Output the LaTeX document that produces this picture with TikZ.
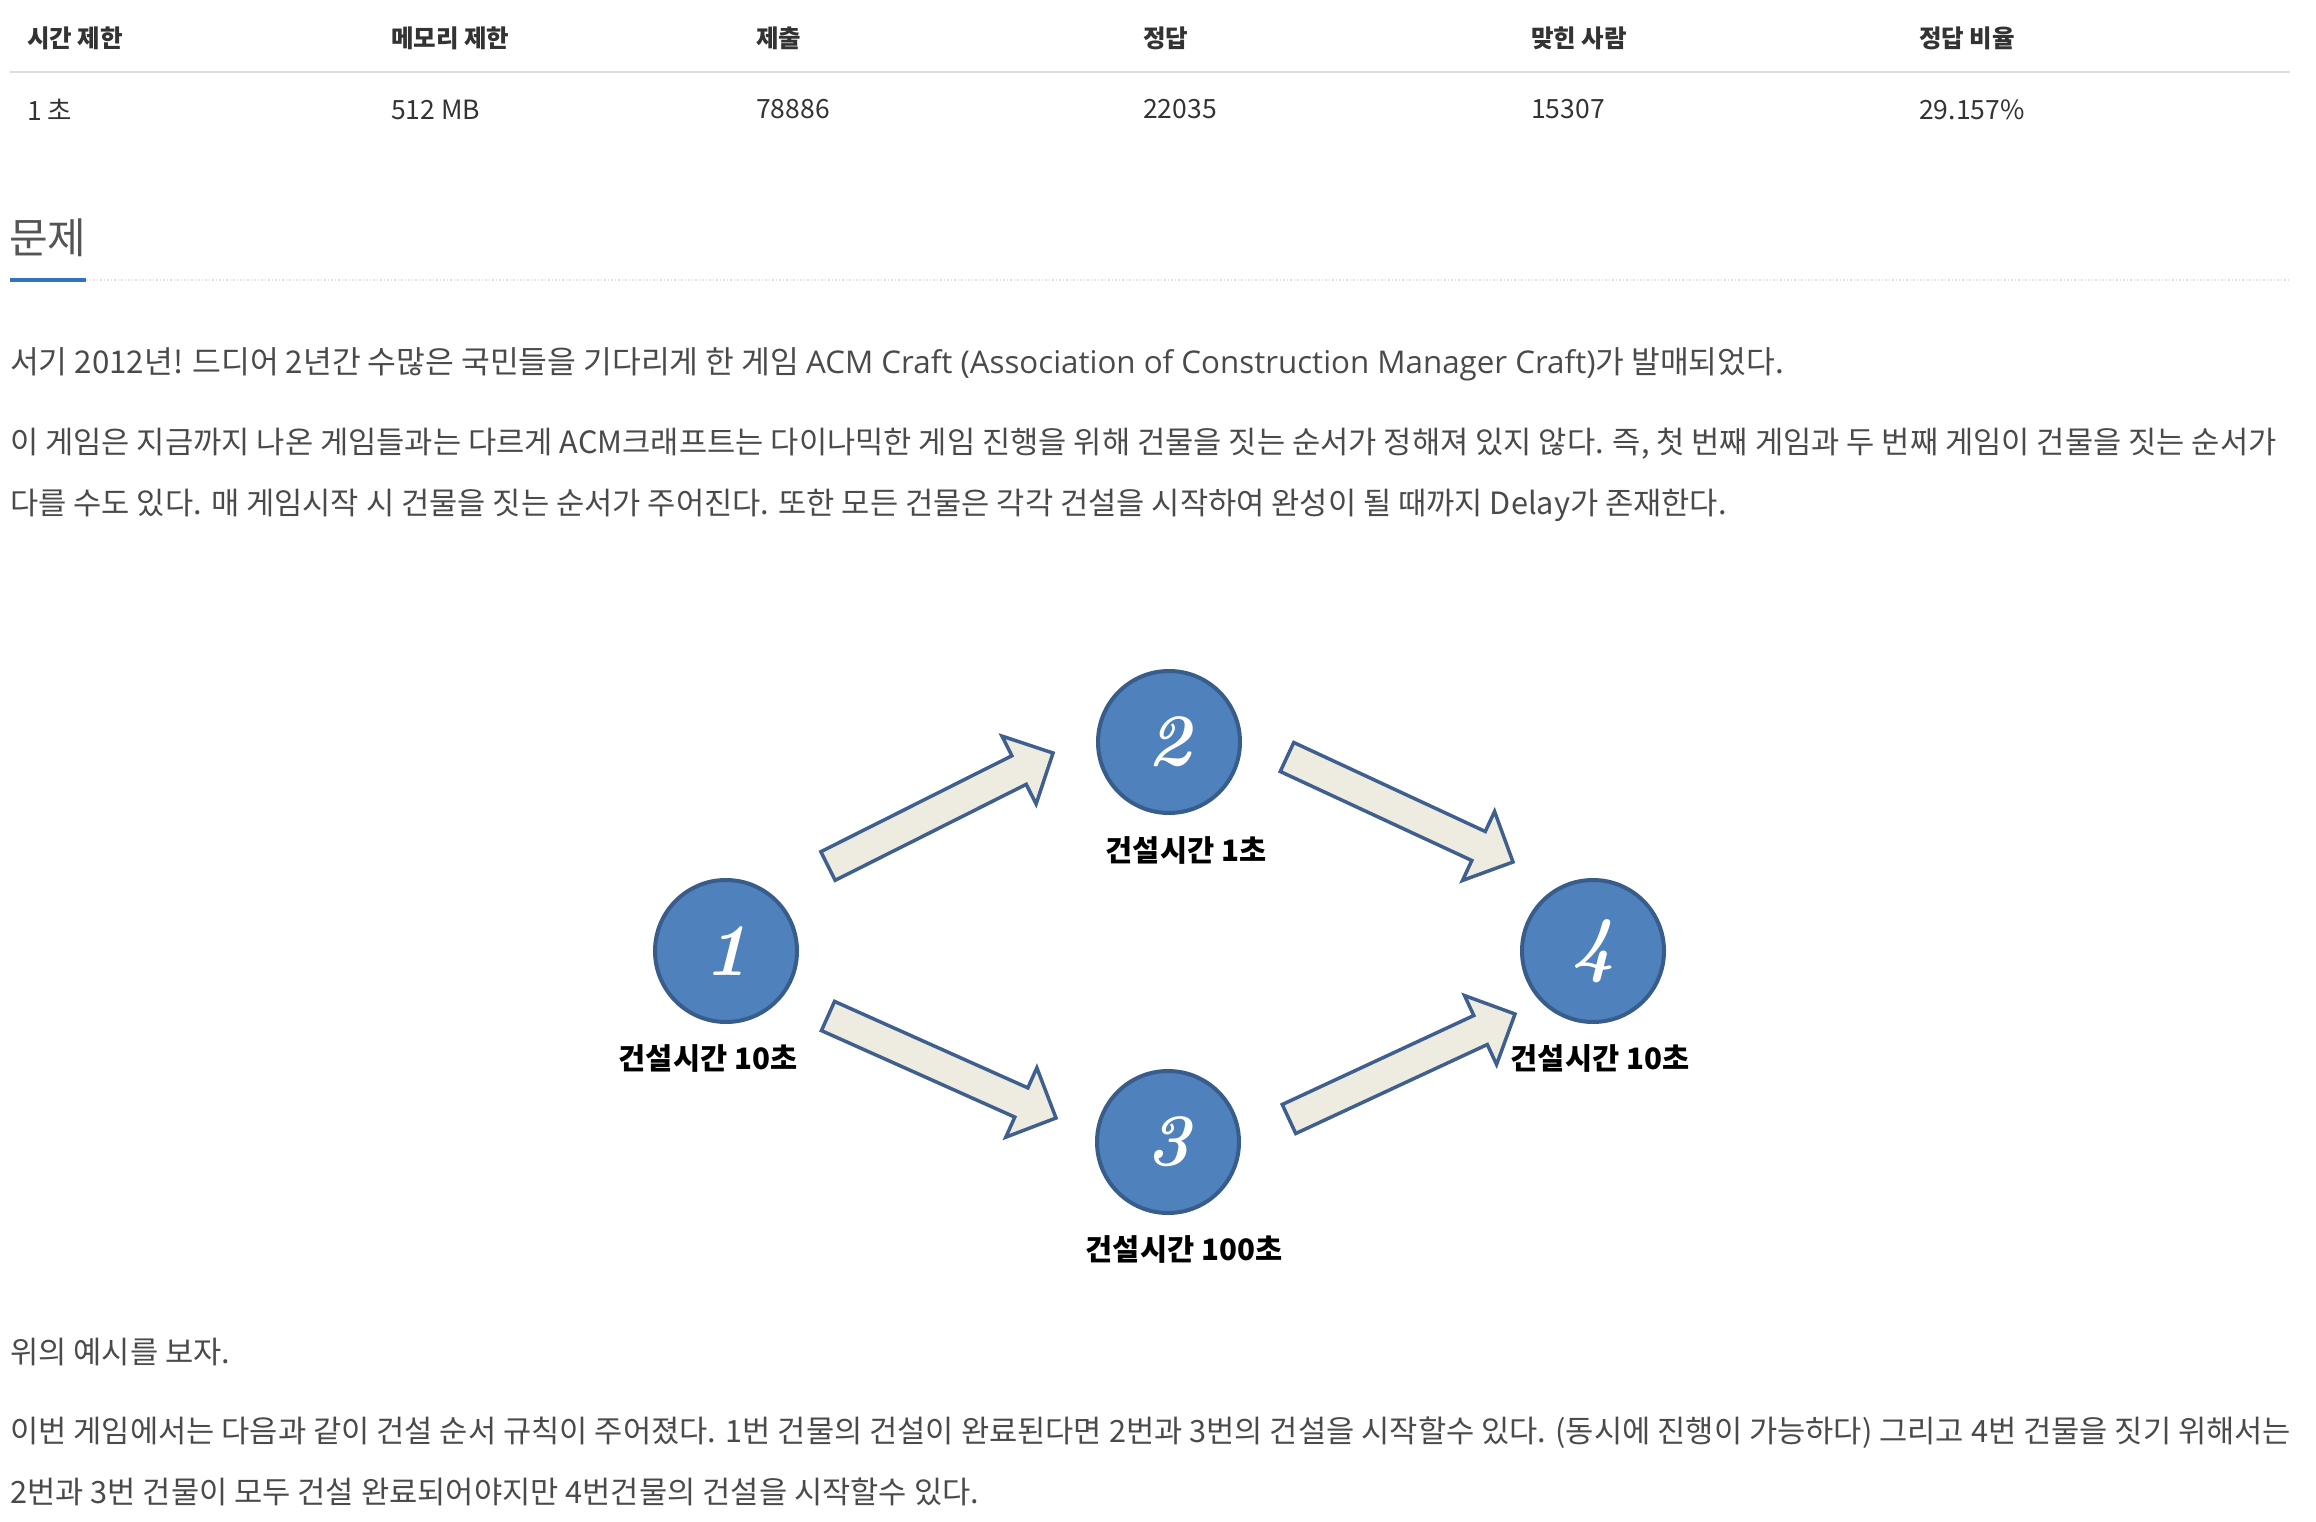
\documentclass[tikz,border=0pt]{standalone}
\usepackage{fontspec}
\setmainfont{Noto Sans CJK KR}
\newfontfamily\latinfont{Open Sans}
\newfontfamily\digitfont{Latin Modern Roman}
\usetikzlibrary{calc}

\definecolor{hdrtext}{HTML}{333333}
\definecolor{bodytext}{HTML}{4A4A4A}
\definecolor{titletext}{HTML}{555555}
\definecolor{rulegray}{HTML}{DDDDDD}
\definecolor{dotgray}{HTML}{E2E2E2}
\definecolor{bojblue}{HTML}{3274BA}
\definecolor{bldgfill}{HTML}{4F81BD}
\definecolor{bldgline}{HTML}{385D8A}
\definecolor{arrfill}{HTML}{EEECE1}
\definecolor{arrline}{HTML}{3F5F8E}

\tikzset{
  colhead/.style={anchor=west, inner sep=0pt, text=hdrtext,
    font=\fontsize{24.5}{28}\selectfont\bfseries},
  colcell/.style={anchor=west, inner sep=0pt, text=hdrtext,
    font=\fontsize{26.5}{30}\selectfont},
  bodyline/.style={anchor=west, inner sep=0pt, text=bodytext,
    font=\fontsize{30.7}{36}\selectfont},
  bldg/.style={circle, fill=bldgfill, draw=bldgline, line width=4pt,
    minimum size=142pt, inner sep=0pt, text=white,
    font=\fontsize{74}{74}\selectfont\digitfont\bfseries\itshape},
  bldgtime/.style={inner sep=0pt, text=black,
    font=\fontsize{29.5}{33}\selectfont\bfseries},
  blockarr/.style={fill=arrfill, draw=arrline, line width=3.5pt, line join=miter},
}

% block arrow from tail #1 to tip #2
\newcommand{\blockarrow}[2]{%
  \coordinate (bh) at ($(#2)!38pt!(#1)$);
  \draw[blockarr] ($(#1)!16pt!90:(#2)$) -- ($(bh)!16pt!90:(#2)$)
    -- ($(bh)!38pt!90:(#2)$) -- (#2) -- ($(bh)!38pt!-90:(#2)$)
    -- ($(bh)!16pt!-90:(#2)$) -- ($(#1)!16pt!-90:(#2)$) -- cycle;
}

\begin{document}
\begin{tikzpicture}[x=1pt,y=-1pt]
\useasboundingbox (0,0) rectangle (2316,1522);

% info table
\foreach \x/\hd/\val [count=\i] in {27/시간 제한/1 초, 391/메모리 제한/512 MB,
    756/제출/78886, 1143/정답/22035, 1531/맞힌 사람/15307, 1919/정답 비율/29.157\%}{
  \node[colhead] (hd\i) at (\x,38.5) {\hd};
  \node[colcell] (val\i) at (\x,109.5) {\val};
}
\draw[rulegray, line width=2.5pt] (10,72) -- (2290,72);

% section title
\node[anchor=west, inner sep=0pt, text=titletext,
  font=\fontsize{42}{48}\selectfont] (title) at (9,238) {문제};
\draw[dotgray, line width=1.5pt, dotted] (86,280) -- (2290,280);
\draw[bojblue, line width=4.5pt] (10,280) -- (86,280);

% problem text
\node[bodyline, font=\fontsize{31.3}{36}\selectfont] (p1) at (10,364) {서기 2012년! 드디어 2년간 수많은 국민들을 기다리게 한 게임 {\latinfont ACM Craft (Association of Construction Manager Craft)}가 발매되었다.};
\node[bodyline] (p2a) at (10,444) {이 게임은 지금까지 나온 게임들과는 다르게 ACM크래프트는 다이나믹한 게임 진행을 위해 건물을 짓는 순서가 정해져 있지 않다. 즉, 첫 번째 게임과 두 번째 게임이 건물을 짓는 순서가};
\node[bodyline] (p2b) at (10,505) {다를 수도 있다. 매 게임시작 시 건물을 짓는 순서가 주어진다. 또한 모든 건물은 각각 건설을 시작하여 완성이 될 때까지 Delay가 존재한다.};

% buildings
\node[bldg] (b1) at (726,951) {1};
\node[bldg] (b2) at (1169,742) {2};
\node[bldg] (b3) at (1168,1142) {3};
\node[bldg] (b4) at (1593,951) {4};
\node[bldgtime] (t1) at (708,1058) {건설시간 10초};
\node[bldgtime] (t2) at (1186,850) {건설시간 1초};
\node[bldgtime] (t3) at (1184,1249) {건설시간 100초};
\node[bldgtime] (t4) at (1600,1058) {건설시간 10초};

% arrow ends
\coordinate (s12) at (828,866);  \coordinate (e12) at (1053,753);
\coordinate (s13) at (828,1016); \coordinate (e13) at (1056,1118);
\coordinate (s24) at (1287,757); \coordinate (e24) at (1513,862);
\coordinate (s34) at (1289,1119);\coordinate (e34) at (1515,1014);
\blockarrow{s12}{e12}
\blockarrow{s13}{e13}
\blockarrow{s24}{e24}
\blockarrow{s34}{e34}

% text below the picture
\node[bodyline] (p3) at (10,1352) {위의 예시를 보자.};
\node[bodyline] (p4a) at (10,1433) {이번 게임에서는 다음과 같이 건설 순서 규칙이 주어졌다. 1번 건물의 건설이 완료된다면 2번과 3번의 건설을 시작할수 있다. (동시에 진행이 가능하다) 그리고 4번 건물을 짓기 위해서는};
\node[bodyline] (p4b) at (10,1492) {2번과 3번 건물이 모두 건설 완료되어야지만 4번건물의 건설을 시작할수 있다.};
\end{tikzpicture}
\end{document}
